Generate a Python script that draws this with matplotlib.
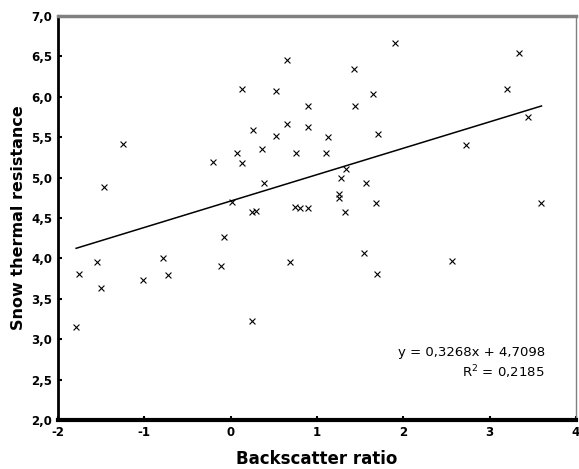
import matplotlib
matplotlib.use("Agg")
import matplotlib.pyplot as plt
import numpy as np

backscatter = [-1.79, -1.76, -1.55, -1.50, -1.47, -1.25, -1.01, -0.78, -0.73, -0.21,
               -0.11, -0.08, 0.01, 0.07, 0.13, 0.13, 0.25, 0.26, 0.25, 0.29,
               0.36, 0.39, 0.52, 0.52, 0.65, 0.65, 0.69, 0.76, 0.74, 0.80,
               0.89, 0.89, 0.89, 1.11, 1.13, 1.25, 1.26, 1.28, 1.34, 1.32,
               1.43, 1.44, 1.55, 1.57, 1.65, 1.68, 1.69, 1.71, 1.90, 2.56,
               2.73, 3.20, 3.34, 3.44, 3.60]
resistance = [3.15, 3.81, 3.95, 3.63, 4.88, 5.42, 3.73, 4.00, 3.79, 5.19,
              3.91, 4.27, 4.70, 5.30, 5.18, 6.10, 3.23, 5.59, 4.58, 4.59,
              5.36, 4.93, 6.07, 5.52, 6.46, 5.66, 3.95, 5.30, 4.63, 4.62,
              4.62, 5.89, 5.63, 5.31, 5.50, 4.80, 4.75, 5.00, 5.11, 4.57,
              6.35, 5.89, 4.07, 4.93, 6.04, 4.68, 3.81, 5.54, 6.66, 3.97,
              5.40, 6.10, 6.54, 5.75, 4.68]
slope = 0.3268
intercept = 4.7098
r2 = 0.2185
x_ticks = [-2, -1, 0, 1, 2, 3, 4]
y_ticks = [2.0, 2.5, 3.0, 3.5, 4.0, 4.5, 5.0, 5.5, 6.0, 6.5, 7.0]

fig = plt.figure(figsize=(5.79, 4.69), dpi=100)
ax = fig.add_axes([0.1002, 0.1045, 0.8946, 0.8614])

ax.scatter(backscatter, resistance, marker='x', s=18, linewidths=0.8, color='black', zorder=3)

xl = np.array([min(backscatter), max(backscatter)])
ax.plot(xl, slope * xl + intercept, color='black', lw=1.1, zorder=2)

ax.set_xlim(-2, 4)
ax.set_ylim(2.0, 7.0)
ax.set_xticks(x_ticks)
ax.set_xticklabels([str(t) for t in x_ticks])
ax.set_yticks(y_ticks)
ax.set_yticklabels([f"{t:.1f}".replace('.', ',') for t in y_ticks])
ax.tick_params(axis='both', direction='in', length=3, width=1.5, labelsize=8.5, pad=4)
for lab in ax.get_xticklabels() + ax.get_yticklabels():
    lab.set_fontweight('bold')

ax.spines['left'].set_color('black')
ax.spines['left'].set_linewidth(2)
ax.spines['bottom'].set_color('black')
ax.spines['bottom'].set_linewidth(3)
ax.spines['top'].set_color('#808080')
ax.spines['top'].set_linewidth(2.5)
ax.spines['right'].set_color('#808080')
ax.spines['right'].set_linewidth(1)

ax.set_xlabel('Backscatter ratio', fontsize=12, fontweight='bold', labelpad=8)
ax.set_ylabel('Snow thermal resistance', fontsize=11.5, fontweight='bold', labelpad=4)

ax.text(3.64, 2.84, f"y = {slope:.4f}x + {intercept:.4f}".replace('.', ','),
        ha='right', va='center', fontsize=9.5)
ax.text(3.64, 2.59, f"R$^2$ = {r2:.4f}".replace('.', ','),
        ha='right', va='center', fontsize=9.5)

fig.savefig('out.png', dpi=100)
